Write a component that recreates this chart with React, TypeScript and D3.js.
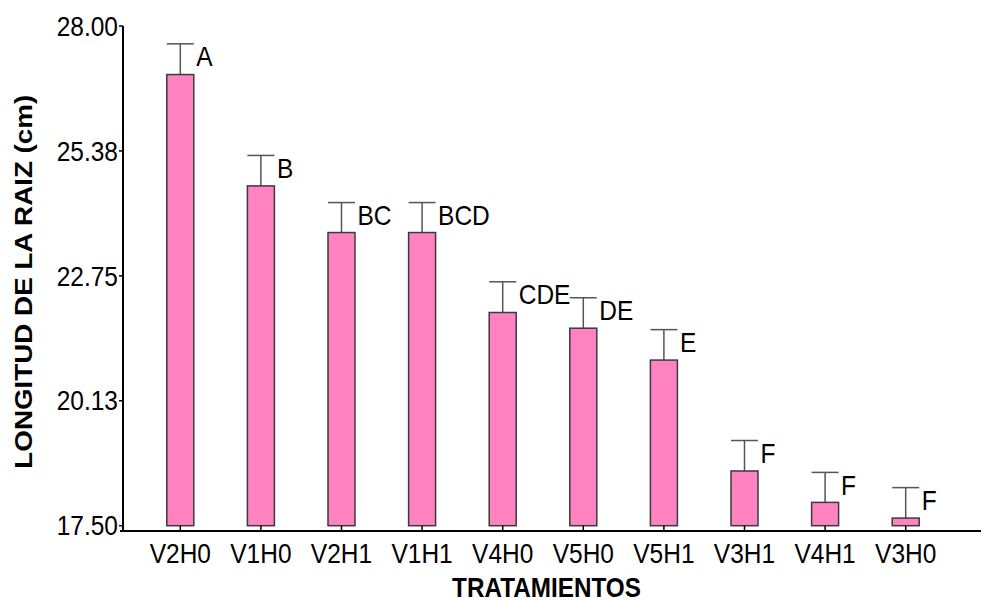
import React from "react";
import * as d3 from "d3";

const W = 981;
const H = 601;

const categories = ["V2H0", "V1H0", "V2H1", "V1H1", "V4H0", "V5H0", "V5H1", "V3H1", "V4H1", "V3H0"];
const means = [26.98, 24.64, 23.66, 23.66, 21.98, 21.65, 20.98, 18.65, 17.99, 17.66];
const errors = [0.645, 0.64, 0.63, 0.63, 0.645, 0.64, 0.64, 0.64, 0.63, 0.64];
const letters = ["A", "B", "BC", "BCD", "CDE", "DE", "E", "F", "F", "F"];
const yTicks = [17.5, 20.125, 22.75, 25.375, 28];

const FONT = "'Liberation Sans', Arial, sans-serif";
const SY = 1.12; // the picture is a bit taller than wide
const BAR_W = 27;
const PINK = "#ff82c1";

export default function App() {
  const y = d3.scaleLinear().domain([17.5, 28]).range([525.7, 26]);
  const x = d3.scalePoint<string>().domain(categories).range([180.3, 905.7]);
  const axisX = 123;
  const axisY = 531;

  return (
    <svg
      width={W}
      height={H}
      style={{ position: "absolute", left: 0, top: 0, background: "#fff" }}
      fontFamily={FONT}
    >
      {/* bars */}
      {categories.map((c, i) => {
        const cx = x(c)!;
        const top = y(means[i]);
        const cap = y(means[i] + errors[i]);
        return (
          <g key={c}>
            <line x1={cx} x2={cx} y1={top} y2={cap} stroke="#555" strokeWidth={1.5} />
            <line x1={cx - BAR_W / 2} x2={cx + BAR_W / 2} y1={cap} y2={cap} stroke="#555" strokeWidth={1.5} />
            <rect
              x={cx - BAR_W / 2}
              y={top}
              width={BAR_W}
              height={y(17.5) - top}
              fill={PINK}
              stroke="#3a3a3a"
              strokeWidth={1.5}
            />
            <text
              transform={`translate(${cx + BAR_W / 2 + 2.5},${cap + 22.5}) scale(1,${SY})`}
              fontSize={24.5}
              fill="#000"
            >
              {letters[i]}
            </text>
            {/* x tick */}
            <line x1={cx} x2={cx} y1={axisY} y2={y(17.5)} stroke="#000" strokeWidth={1.5} />
            <text
              transform={`translate(${cx},${563}) scale(1,${SY})`}
              fontSize={24.5}
              textAnchor="middle"
              fill="#000"
            >
              {c}
            </text>
          </g>
        );
      })}

      {/* y axis */}
      <line x1={axisX} x2={axisX} y1={y(28)} y2={axisY} stroke="#000" strokeWidth={2} />
      {yTicks.map((t) => (
        <g key={t}>
          <line x1={axisX - 4} x2={axisX} y1={y(t)} y2={y(t)} stroke="#000" strokeWidth={1.5} />
          <text
            transform={`translate(${axisX - 5},${y(t) + 9.7}) scale(1,${SY})`}
            fontSize={24.5}
            textAnchor="end"
            fill="#000"
          >
            {t.toFixed(2)}
          </text>
        </g>
      ))}

      {/* x axis */}
      <line x1={120} x2={W} y1={axisY} y2={axisY} stroke="#000" strokeWidth={2} />

      {/* titles */}
      <text
        transform={`translate(546.5,596.5) scale(1,${SY})`}
        fontSize={24.3}
        fontWeight="bold"
        textAnchor="middle"
        fill="#000"
      >
        TRATAMIENTOS
      </text>
      <text
        transform={`translate(31.5,281.7) rotate(-90) scale(${SY},1)`}
        fontSize={24.8}
        fontWeight="bold"
        textAnchor="middle"
        fill="#000"
      >
        LONGITUD DE LA RAIZ (cm)
      </text>
    </svg>
  );
}
